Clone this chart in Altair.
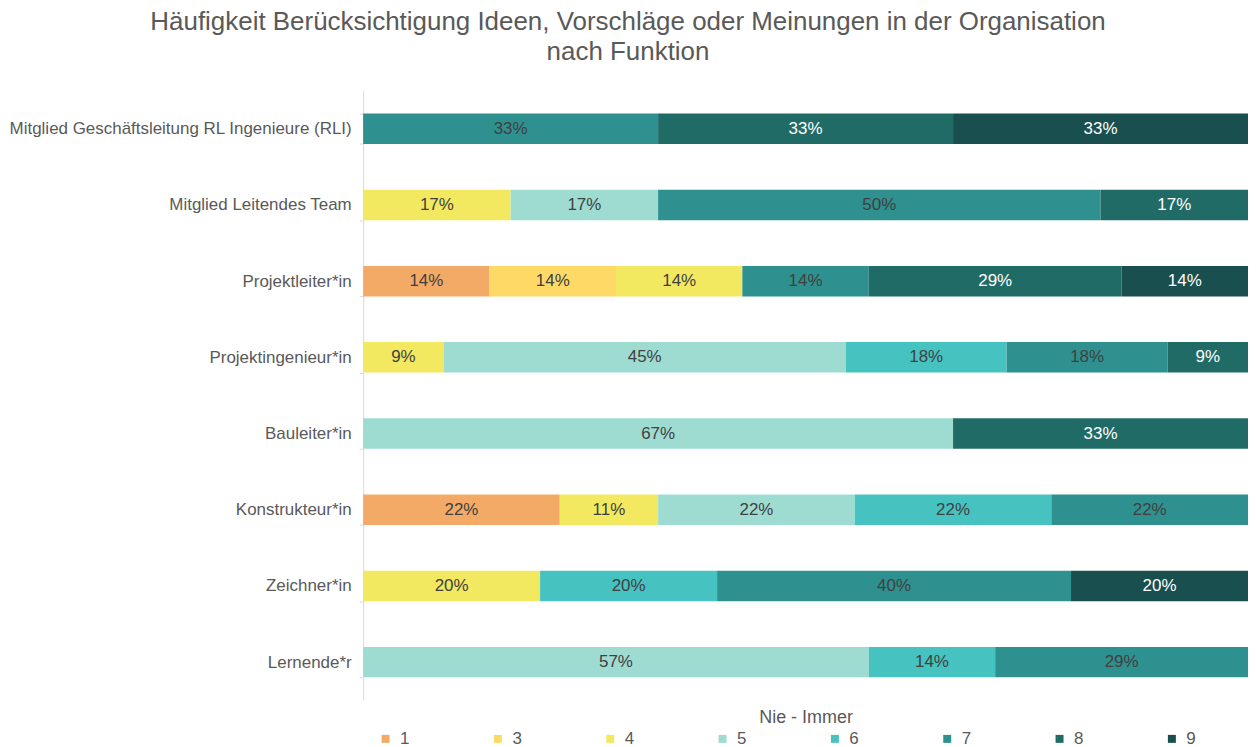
import altair as alt
import pandas as pd

functions = [
    "Mitglied Geschäftsleitung RL Ingenieure (RLI)",
    "Mitglied Leitendes Team",
    "Projektleiter*in",
    "Projektingenieur*in",
    "Bauleiter*in",
    "Konstrukteur*in",
    "Zeichner*in",
    "Lernende*r",
]
levels = ["1", "3", "4", "5", "6", "7", "8", "9"]
colors = ["#F2AA66", "#FFD966", "#F2E961", "#9EDCD2", "#46C3C1", "#2E908F", "#216B67", "#194F4E"]

# responses per level (counts) for each function, in the order of `functions`
lvl_1 = [0, 0, 1, 0, 0, 2, 0, 0]
lvl_3 = [0, 0, 1, 0, 0, 0, 0, 0]
lvl_4 = [0, 1, 1, 1, 0, 1, 1, 0]
lvl_5 = [0, 1, 0, 5, 2, 2, 0, 4]
lvl_6 = [0, 0, 0, 2, 0, 2, 1, 1]
lvl_7 = [1, 3, 1, 2, 0, 2, 2, 2]
lvl_8 = [1, 1, 2, 1, 1, 0, 0, 0]
lvl_9 = [1, 0, 1, 0, 0, 0, 1, 0]

series = dict(zip(levels, [lvl_1, lvl_3, lvl_4, lvl_5, lvl_6, lvl_7, lvl_8, lvl_9]))
rows = []
for lv, vals in series.items():
    for f, v in zip(functions, vals):
        if v > 0:
            rows.append({"Funktion": f, "Stufe": lv, "Anzahl": v, "ord": int(lv)})
df = pd.DataFrame(rows)

FONT = "Liberation Sans"
GREY = "#595959"

base = alt.Chart(df).transform_stack(
    stack="Anzahl",
    as_=["x0", "x1"],
    groupby=["Funktion"],
    offset="normalize",
    sort=[alt.SortField("ord", order="ascending")],
).transform_calculate(
    mid="(datum.x0 + datum.x1) / 2",
    share="datum.x1 - datum.x0",
)

yenc = alt.Y(
    "Funktion:N",
    sort=functions,
    title=None,
    scale=alt.Scale(paddingInner=0.6, paddingOuter=0.3),
    axis=alt.Axis(
        labelFont=FONT, labelFontSize=17, labelColor=GREY, labelPadding=8,
        tickBand="extent", tickSize=4, tickColor="#D9D9D9",
        domainColor="#D9D9D9", labelLimit=500,
    ),
)

bars = base.mark_bar().encode(
    x=alt.X(
        "x0:Q",
        scale=alt.Scale(domain=[0, 1], nice=False),
        axis=alt.Axis(
            labels=False, ticks=False, domain=False, grid=False,
            title="Nie - Immer", titleFont=FONT, titleFontSize=18,
            titleFontWeight="normal", titleColor=GREY, titlePadding=8,
        ),
    ),
    x2="x1:Q",
    y=yenc,
    color=alt.Color(
        "Stufe:N",
        scale=alt.Scale(domain=levels, range=colors),
        legend=alt.Legend(
            title=None, orient="none", legendX=14, legendY=641,
            direction="horizontal", columns=8, columnPadding=79.6,
            symbolType="square", symbolSize=64, symbolStrokeWidth=0,
            labelFont=FONT, labelFontSize=17, labelColor=GREY,
            labelOffset=6, padding=0,
        ),
    ),
    tooltip=["Funktion:N", "Stufe:N", alt.Tooltip("share:Q", format=".0%")],
)

labels = base.mark_text(font=FONT, fontSize=17).encode(
    x=alt.X("mid:Q"),
    y=alt.Y("Funktion:N", sort=functions),
    text=alt.Text("share:Q", format=".0%"),
    color=alt.condition(
        "datum.ord >= 8", alt.value("#FFFFFF"), alt.value("#404040")
    ),
)

chart = (
    alt.layer(bars, labels)
    .properties(
        width=887,
        height=611,
        padding=0,
        title=alt.Title(
            text=["Häufigkeit Berücksichtigung Ideen, Vorschläge oder Meinungen in der Organisation",
                  "nach Funktion"],
            font=FONT, fontSize=26, fontWeight="normal", color=GREY,
            anchor="middle", frame="bounds", lineHeight=30, offset=17,
        ),
    )
    .configure_view(stroke=None)
)

chart.save("out.html", embed_options={"renderer": "svg", "actions": False})
